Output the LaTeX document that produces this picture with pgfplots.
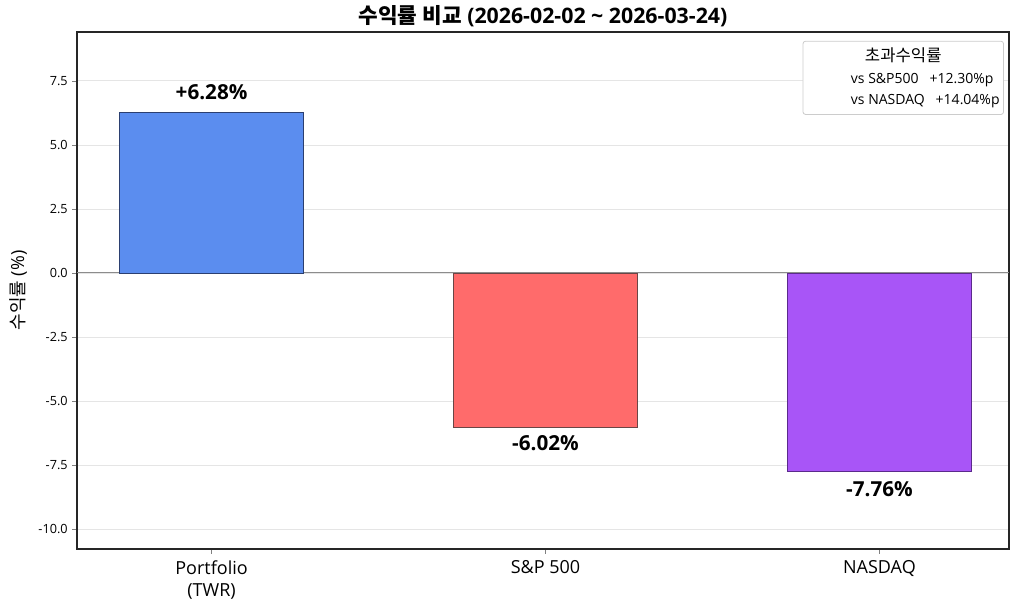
\documentclass[border=0pt]{standalone}
\usepackage{fontspec}
\setmainfont{Open Sans}
\newfontfamily\kr{Noto Sans CJK KR}
\usepackage{pgfplots}
\pgfplotsset{compat=1.18}
\definecolor{cblue}{HTML}{5B8DEF}
\definecolor{cred}{HTML}{FF6B6B}
\definecolor{cpurple}{HTML}{A855F7}
\definecolor{eblue}{HTML}{2B3F70}
\definecolor{ered}{HTML}{6A4646}
\definecolor{epurple}{HTML}{5B2A8C}
\begin{document}
\begin{tikzpicture}
\path[use as bounding box] (-57.75pt,-45pt) rectangle (710.25pt,411.75pt);
\begin{axis}[
  at={(0,0)}, anchor=south west, scale only axis,
  width=699pt, height=387.75pt,
  xmin=-0.403, xmax=2.388, ymin=-10.78, ymax=9.41,
  xtick={0,1,2},
  xticklabels={{Portfolio\\(TWR)}, {S\&P 500}, {NASDAQ}},
  xticklabel style={align=center, font=\fontsize{13.5}{16.5}\selectfont, yshift=-1.5pt},
  ytick={-10,-7.5,-5,-2.5,0,2.5,5,7.5},
  yticklabel style={/pgf/number format/fixed, /pgf/number format/fixed zerofill,
    /pgf/number format/precision=1, font=\fontsize{9.5}{11}\selectfont},
  /pgf/number format/assume math mode=true,
  ymajorgrids, grid style={black!10, line width=0.6pt},
  tick align=outside, xtick pos=bottom, ytick pos=left,
  major tick length=3.5pt,
  axis line style={line width=0.8pt, black!85},
  ylabel={{\kr 수익률} (\%)},
  ylabel style={font=\fontsize{13.5}{15}\selectfont, at={(axis description cs:-0.0633,0.5)}, anchor=center},
  title={\textbf{{\kr\bfseries 수익률 비교} (2026-02-02 \textasciitilde{} 2026-03-24)}},
  title style={font=\fontsize{16}{18}\selectfont, at={(axis description cs:0.5,1)}, anchor=center, yshift=5.5pt},
  clip=false,
]
\draw[black!45, line width=0.8pt] (axis cs:-0.403,0) -- (axis cs:2.388,0);
\addplot[ybar, bar width=0.55, bar shift=0pt, fill=cblue, draw=eblue, line width=0.5pt,
  nodes near coords={\textbf{+6.28\%}},
  nodes near coords style={anchor=south, font=\fontsize{15.5}{17}\selectfont, yshift=5.5pt}]
  coordinates {(0,6.28)};
\addplot[ybar, bar width=0.55, bar shift=0pt, fill=cred, draw=ered, line width=0.5pt,
  nodes near coords={\textbf{-6.02\%}},
  nodes near coords style={anchor=north, font=\fontsize{15.5}{17}\selectfont, yshift=-3pt}]
  coordinates {(1,-6.02)};
\addplot[ybar, bar width=0.55, bar shift=0pt, fill=cpurple, draw=epurple, line width=0.5pt,
  nodes near coords={\textbf{-7.76\%}},
  nodes near coords style={anchor=north, font=\fontsize{15.5}{17}\selectfont, yshift=-3.5pt}]
  coordinates {(2,-7.76)};
\node[draw=black!20, rounded corners=2pt, fill=white, anchor=north east, inner sep=3pt,
  line width=0.6pt]
  at (rel axis cs:0.9946,0.983) {%
  \fontsize{10.5}{15.75}\selectfont
  \begin{tabular}{@{\hspace{33pt}}l@{\hspace{0pt}}}
  \multicolumn{1}{@{}c@{}}{\kr\fontsize{12.5}{14}\selectfont\rule{0pt}{12.5pt}초과수익률}\\[0.25pt]
  vs S\&P500\ \ \ +12.30\%p\\
  vs NASDAQ\ \ \ +14.04\%p
  \end{tabular}};
\end{axis}
\end{tikzpicture}
\end{document}
